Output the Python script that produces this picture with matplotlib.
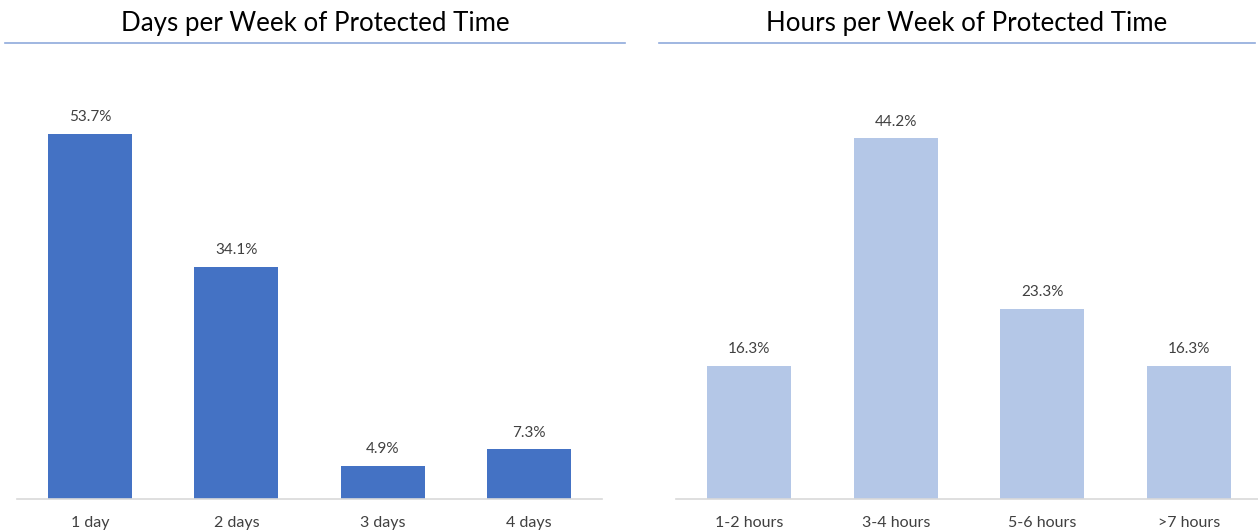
import matplotlib.pyplot as plt
from matplotlib.lines import Line2D

# data
days_labels = ["1 day", "2 days", "3 days", "4 days"]
days_values = [53.7, 34.1, 4.9, 7.3]
hours_labels = ["1-2 hours", "3-4 hours", "5-6 hours", ">7 hours"]
hours_values = [16.3, 44.2, 23.3, 16.3]

W, H = 1258, 532
plt.rcParams['font.family'] = ['Lato', 'DejaVu Sans']
fig = plt.figure(figsize=(W / 100, H / 100), dpi=100)


def px_axes(x0, x1, y_top, y_bot):
    return fig.add_axes([x0 / W, 1 - y_bot / H, (x1 - x0) / W, (y_bot - y_top) / H])


def draw_panel(ax, labels, values, color, ymax):
    xs = range(len(values))
    ax.bar(xs, values, width=0.575, color=color)
    for x, v in zip(xs, values):
        ax.annotate(f"{v}%", (x, v), xytext=(0, 7), textcoords="offset points",
                    ha="center", va="bottom", fontsize=11, color="#404040")
    ax.set_xlim(-0.5, len(values) - 0.5)
    ax.set_ylim(0, ymax)
    ax.set_xticks(list(xs))
    ax.set_xticklabels(labels, fontsize=11.5, color="#404040")
    ax.tick_params(axis="x", length=0, pad=12)
    ax.set_yticks([])
    for s in ["top", "left", "right"]:
        ax.spines[s].set_visible(False)
    ax.spines["bottom"].set_color("#D9D9D9")
    ax.spines["bottom"].set_linewidth(1.2)


ax1 = px_axes(17, 602, 91, 499)
draw_panel(ax1, days_labels, days_values, "#4472C4", 60)
ax2 = px_axes(676, 1262, 91, 499)
draw_panel(ax2, hours_labels, hours_values, "#B4C7E7", 50)

# titles with rule underneath
for cx, x0, x1, title in [(315, 5, 625, "Days per Week of Protected Time"),
                          (967, 659, 1255, "Hours per Week of Protected Time")]:
    fig.text(cx / W, 1 - 23 / H, title, ha="center", va="center",
             fontsize=18.6, color="black")
    fig.add_artist(Line2D([x0 / W, x1 / W], [1 - 43 / H, 1 - 43 / H],
                          transform=fig.transFigure, color="#8FAADC", lw=1.2))

fig.savefig("out.png", dpi=100)
